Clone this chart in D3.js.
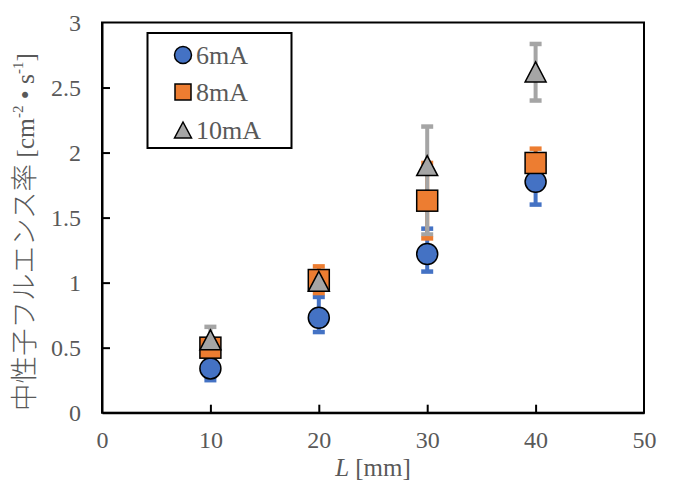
<!DOCTYPE html>
<html><head><meta charset="utf-8">
<script src="https://d3js.org/d3.v7.min.js"></script>
<style>body{margin:0;background:#fff}svg{display:block}</style>
</head><body>
<script>
const xValues = [10, 20, 30, 40];
const seriesNames = ["6mA", "8mA", "10mA"];
const values6 = [0.34, 0.73, 1.22, 1.775];
const lower6 = [0.09, 0.11, 0.135, 0.175];
const upper6 = [0.09, 0.16, 0.195, 0.175];
const values8 = [0.50, 1.02, 1.63, 1.92];
const lower8 = [0.05, 0.10, 0.29, 0.11];
const upper8 = [0.05, 0.105, 0.29, 0.11];
const values10 = [0.56, 1.01, 1.90, 2.62];
const lower10 = [0.10, 0.06, 0.53, 0.22];
const upper10 = [0.10, 0.06, 0.30, 0.215];
const xTicks = [0, 10, 20, 30, 40, 50];
const yTicks = [0, 0.5, 1, 1.5, 2, 2.5, 3];
const yTickLabels = ["0", "0.5", "1", "1.5", "2", "2.5", "3"];
const colors = ["#4472C4", "#ED7D31", "#A5A5A5"];

const W = 673, H = 485;
const svg = d3.select("body").append("svg").attr("width", W).attr("height", H);
const x = d3.scaleLinear().domain([0, 50]).range([102, 644]);
const y = d3.scaleLinear().domain([0, 3]).range([412.7, 22.5]);
const serif = "'Liberation Serif','Times New Roman',serif";
const txt = "#595959";

svg.append("rect").attr("x", x(0)).attr("y", y(3)).attr("width", x(50) - x(0)).attr("height", y(0) - y(3))
  .attr("fill", "none").attr("stroke", "#000").attr("stroke-width", 2);

const xAxis = d3.axisBottom(x).tickValues(xTicks).tickSizeInner(-8).tickSizeOuter(0).tickPadding(18);
const gx = svg.append("g").attr("transform", `translate(0,${y(0)})`).call(xAxis);
const yAxis = d3.axisLeft(y).tickValues(yTicks).tickFormat((d, i) => yTickLabels[i]).tickSizeInner(-8).tickSizeOuter(0).tickPadding(21);
const gy = svg.append("g").attr("transform", `translate(${x(0)},0)`).call(yAxis);
[gx, gy].forEach(g => {
  g.attr("font-size", 24).attr("font-family", serif);
  g.select(".domain").attr("stroke", "#000").attr("stroke-width", 2);
  g.selectAll(".tick line").attr("stroke", "#000").attr("stroke-width", 2);
  g.selectAll(".tick text").attr("fill", txt).attr("font-family", serif).attr("font-size", 24);
});
gx.selectAll(".tick line").filter(d => d === 0 || d === 50).remove();
gy.selectAll(".tick line").filter(d => d === 0 || d === 3).remove();

const series = [
  {name: seriesNames[0], v: values6, lo: lower6, hi: upper6, c: colors[0]},
  {name: seriesNames[1], v: values8, lo: lower8, hi: upper8, c: colors[1]},
  {name: seriesNames[2], v: values10, lo: lower10, hi: upper10, c: colors[2]}
];
function errLines(si) {
  const s = series[si], g = svg.append("g");
  xValues.forEach((xv, i) => {
    g.append("line").attr("x1", x(xv)).attr("x2", x(xv)).attr("y1", y(s.v[i] - s.lo[i])).attr("y2", y(s.v[i] + s.hi[i]))
      .attr("stroke", s.c).attr("stroke-width", 4);
  });
}
function errCaps(si) {
  const s = series[si], g = svg.append("g");
  xValues.forEach((xv, i) => {
    [y(s.v[i] - s.lo[i]), y(s.v[i] + s.hi[i])].forEach(yy =>
      g.append("line").attr("x1", x(xv) - 6).attr("x2", x(xv) + 6).attr("y1", yy).attr("y2", yy).attr("stroke", s.c).attr("stroke-width", 4.5));
  });
}
errLines(0); errCaps(0);
errLines(1);
errLines(2); errCaps(2);
errCaps(1);

function marker(g, si, cx, cy) {
  const c = colors[si];
  if (si === 0) g.append("circle").attr("cx", cx).attr("cy", cy).attr("r", 10.5).attr("fill", c).attr("stroke", "#000").attr("stroke-width", 1.5);
  else if (si === 1) g.append("rect").attr("x", cx - 10.5).attr("y", cy - 10.5).attr("width", 21).attr("height", 21).attr("fill", c).attr("stroke", "#000").attr("stroke-width", 1.5);
  else g.append("path").attr("d", `M${cx},${cy - 10}L${cx + 10.5},${cy + 10}L${cx - 10.5},${cy + 10}Z`).attr("fill", c).attr("stroke", "#000").attr("stroke-width", 1.5);
}
series.forEach((s, si) => {
  const g = svg.append("g");
  xValues.forEach((xv, i) => marker(g, si, x(xv), y(s.v[i])));
});

const lg = svg.append("g");
lg.append("rect").attr("x", 147.5).attr("y", 33).attr("width", 144).attr("height", 115).attr("fill", "#fff").attr("stroke", "#000").attr("stroke-width", 2);
const legendY = [55, 92, 130];
series.forEach((s, si) => {
  const g = lg.append("g");
  const lx = 183, ly = legendY[si];
  if (si === 0) g.append("circle").attr("cx", lx).attr("cy", ly).attr("r", 8.5).attr("fill", s.c).attr("stroke", "#000").attr("stroke-width", 1.5);
  else if (si === 1) g.append("rect").attr("x", lx - 8).attr("y", ly - 8).attr("width", 16).attr("height", 16).attr("fill", s.c).attr("stroke", "#000").attr("stroke-width", 1.5);
  else g.append("path").attr("d", `M${lx},${ly - 8}L${lx + 8.5},${ly + 8}L${lx - 8.5},${ly + 8}Z`).attr("fill", s.c).attr("stroke", "#000").attr("stroke-width", 1.5);
  g.append("text").attr("x", 196).attr("y", ly + 9).attr("fill", txt).attr("font-family", serif).attr("font-size", 26).text(s.name);
});

const xl = svg.append("text").attr("x", x(25)).attr("y", 476).attr("text-anchor", "middle").attr("fill", txt).attr("font-family", serif).attr("font-size", 25);
xl.append("tspan").attr("font-style", "italic").text("L");
xl.append("tspan").text(" [mm]");

const yl = svg.append("text").attr("transform", "translate(34,232) rotate(-90)").attr("text-anchor", "middle").attr("fill", txt).attr("font-size", 25.5);
yl.append("tspan").attr("font-family", "'Noto Sans CJK JP',sans-serif").attr("font-weight", 300).attr("font-size", 27.5).text("中性子フルエンス率");
yl.append("tspan").attr("font-family", serif).text(" [cm");
yl.append("tspan").attr("font-family", serif).attr("font-size", 15).attr("dy", -11).text("-2");
yl.append("tspan").attr("font-family", serif).attr("dy", 11).text(" • s");
yl.append("tspan").attr("font-family", serif).attr("font-size", 15).attr("dy", -11).text("-1");
yl.append("tspan").attr("font-family", serif).attr("dy", 11).text("]");
</script>
</body></html>
